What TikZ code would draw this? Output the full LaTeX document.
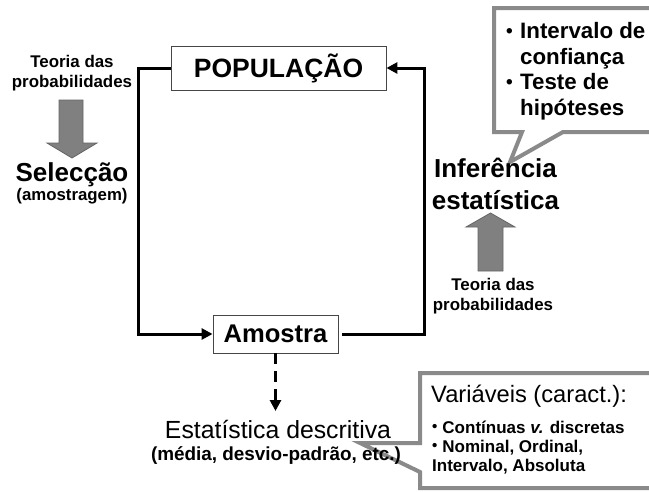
\documentclass[tikz,border=0pt]{standalone}
\usepackage{fontspec}
\setmainfont{Liberation Sans}
\usetikzlibrary{arrows.meta}
\definecolor{callgray}{RGB}{138,138,138}
\definecolor{arrgray}{RGB}{128,128,128}
\definecolor{arredge}{RGB}{100,100,100}
\definecolor{boxedge}{RGB}{70,70,70}
\newcommand\fsz[2]{\fontsize{#1}{#2}\selectfont}
\newcommand\smbul{\raisebox{1.5pt}{\fsz{15}{15}•}}
\newcommand\bigbul{\makebox[14pt][l]{\raisebox{1pt}{\fsz{19}{19}•}}}
\begin{document}
\begin{tikzpicture}[x=1pt,y=-1pt,
  boxnode/.style={draw=boxedge,line width=0.9,fill=white,inner sep=0,font=\bfseries\fsz{26.5}{30}},
  conn/.style={line width=3,black},
  tip/.style={-{Triangle[length=11,width=11]}},
  txt/.style={inner sep=0,align=center},
  bigb/.style={txt,font=\bfseries\fsz{26}{31}},
  smallb/.style={txt,font=\bfseries\fsz{16.9}{19.5}},
  callout/.style={draw=callgray,line width=4,fill=white,line join=miter},
  grayarrow/.style={fill=arrgray,draw=arredge,line width=0.8}
]
\useasboundingbox (0,0) rectangle (649,491);
\clip (0,0) rectangle (649,491);

% callouts first (text overlaps them)
\draw[callout] (494,8) -- (670,8) -- (670,132) -- (563,132) -- (510,162) -- (522,132) -- (494,132) -- cycle;
\draw[callout] (420,373) -- (670,373) -- (670,488) -- (420,488) -- (420,472) -- (360,443) -- (420,443) -- cycle;

% main boxes
\node[boxnode,minimum width=215,minimum height=44] (pop) at (278.5,68) {POPULAÇÃO};
\node[boxnode,minimum width=125,minimum height=38,font=\bfseries\fsz{25.6}{30}] (amo) at (275.5,334) {Amostra};

% connectors
\coordinate (cl) at (138,200);
\coordinate (cr) at (424,200);
\coordinate (dend) at (275.5,411);
\draw[conn,tip] (pop.west) -| (cl) |- (amo.west);
\draw[conn,tip,shorten <=4] (amo.east) -| (cr) |- (pop.east);
\draw[conn,tip,dash pattern=on 11 off 7] (amo.south) -- (dend);

% left side
\node[smallb] (tl) at (72,73) {Teoria das\\probabilidades};
\draw[grayarrow] (59,100) -- (83,100) -- (83,143) -- (97,143) -- (72,158) -- (47,143) -- (59,143) -- cycle;
\node[bigb] (sel) at (72,175) {Selecção};
\node[txt,font=\bfseries\fsz{16.8}{19}] (amos) at (72,196) {(amostragem)};

% right side
\node[bigb,font=\bfseries\fsz{26}{32}] (inf) at (495.5,184) {Inferência\\estatística};
\draw[grayarrow] (478,271) -- (503,271) -- (503,227) -- (515,227) -- (490.5,213) -- (466,227) -- (478,227) -- cycle;
\node[smallb] (tr) at (493,296) {Teoria das\\probabilidades};

% descriptive
\node[txt,font=\fsz{24.8}{28}] (desc) at (278,429) {Estatística descritiva};
\node[txt,font=\bfseries\fsz{18.9}{22}] (descs) at (276,456) {(média, desvio-padrão, etc.)};

% top callout text
\node[txt,align=left,anchor=west,font=\bfseries\fsz{22.3}{25.5}] (ci) at (506,71)
  {\bigbul Intervalo de\\\makebox[14pt][l]{}confiança\\\bigbul Teste de\\\makebox[14pt][l]{}hipóteses};

% bottom callout text
\node[txt,anchor=west,font=\fsz{23.7}{28}] (var) at (431,396) {Variáveis (caract.):};
\node[txt,anchor=west,font=\bfseries\fsz{17}{19.5}] (v1) at (432,427) {\smbul\hspace{5pt}Contínuas \textit{v.} discretas};
\node[txt,anchor=west,align=left,font=\bfseries\fsz{17}{19.5}] (v2) at (432,457) {\smbul\hspace{5pt}Nominal, Ordinal,\\Intervalo, Absoluta};
\end{tikzpicture}
\end{document}
